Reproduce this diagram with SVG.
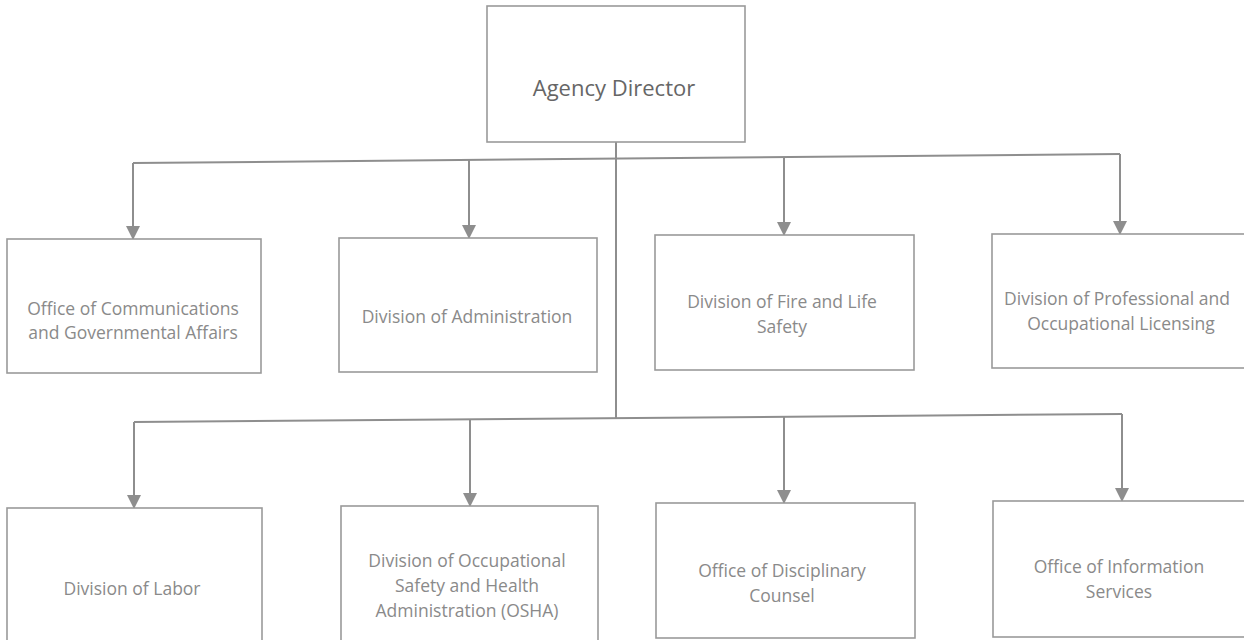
<svg xmlns="http://www.w3.org/2000/svg" width="1244" height="640" viewBox="0 0 1244 640">
<style>
.box{fill:#ffffff;stroke:#9a9a9a;stroke-width:1.6}
.lbl{font-family:"Open Sans","Liberation Sans",sans-serif;font-size:17.5px;fill:#8a8a8a;text-anchor:middle}
.top{font-family:"Open Sans","Liberation Sans",sans-serif;font-size:22px;fill:#666666;text-anchor:middle}
.ln{fill:none;stroke:#8e8e8e;stroke-width:2}
</style>
<defs>
<marker id="arr" markerUnits="userSpaceOnUse" markerWidth="14" markerHeight="14" refX="13" refY="7" orient="auto">
<path d="M0,0 L14,7 L0,14 z" fill="#8e8e8e"/>
</marker>
</defs>
<rect width="1244" height="640" fill="#ffffff"/>
<g id="connectors">
<line class="ln" x1="616" y1="142" x2="616" y2="418"/>
<line class="ln" x1="133" y1="163" x2="1120" y2="154"/>
<line class="ln" x1="134" y1="422" x2="1122" y2="414"/>
<path class="ln" d="M133,163 V239" marker-end="url(#arr)"/>
<path class="ln" d="M469,160 V238" marker-end="url(#arr)"/>
<path class="ln" d="M784,157 V235" marker-end="url(#arr)"/>
<path class="ln" d="M1120,154 V234" marker-end="url(#arr)"/>
<path class="ln" d="M134,422 V508" marker-end="url(#arr)"/>
<path class="ln" d="M470,419 V506" marker-end="url(#arr)"/>
<path class="ln" d="M784,417 V503" marker-end="url(#arr)"/>
<path class="ln" d="M1122,414 V501" marker-end="url(#arr)"/>
</g>
<g id="agency-director">
<rect class="box" x="487" y="6" width="258" height="136"/>
<text class="top" x="614" y="96">Agency Director</text>
</g>
<g id="office-communications">
<rect class="box" x="7" y="239" width="254" height="134"/>
<text class="lbl" x="133" y="315">Office of Communications</text>
<text class="lbl" x="133" y="339">and Governmental Affairs</text>
</g>
<g id="division-administration">
<rect class="box" x="339" y="238" width="258" height="134"/>
<text class="lbl" x="467" y="323">Division of Administration</text>
</g>
<g id="division-fire">
<rect class="box" x="655" y="235" width="259" height="135"/>
<text class="lbl" x="782" y="308">Division of Fire and Life</text>
<text class="lbl" x="782" y="333">Safety</text>
</g>
<g id="division-professional">
<rect class="box" x="992" y="234" width="262" height="134"/>
<text class="lbl" x="1117" y="305">Division of Professional and</text>
<text class="lbl" x="1121" y="330">Occupational Licensing</text>
</g>
<g id="division-labor">
<rect class="box" x="7" y="508" width="255" height="145"/>
<text class="lbl" x="132" y="595">Division of Labor</text>
</g>
<g id="division-osha">
<rect class="box" x="341" y="506" width="257" height="147"/>
<text class="lbl" x="467" y="567">Division of Occupational</text>
<text class="lbl" x="467" y="592">Safety and Health</text>
<text class="lbl" x="467" y="617">Administration (OSHA)</text>
</g>
<g id="office-disciplinary">
<rect class="box" x="656" y="503" width="259" height="135"/>
<text class="lbl" x="782" y="577">Office of Disciplinary</text>
<text class="lbl" x="782" y="602">Counsel</text>
</g>
<g id="office-information">
<rect class="box" x="993" y="501" width="262" height="136"/>
<text class="lbl" x="1119" y="573">Office of Information</text>
<text class="lbl" x="1119" y="598">Services</text>
</g>
</svg>
